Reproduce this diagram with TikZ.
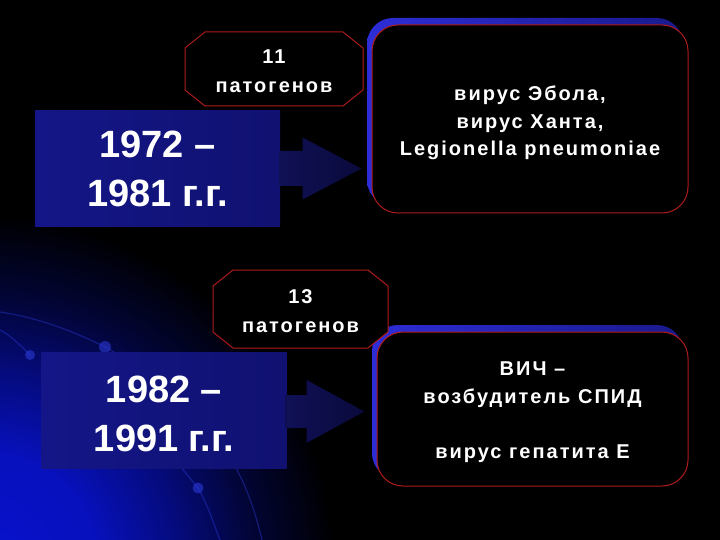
\documentclass[tikz,border=0pt]{standalone}
\usepackage{fontspec}
\setmainfont{Liberation Sans}
\newfontfamily\widefont[LetterSpace=10.0]{Liberation Sans}
\usetikzlibrary{calc,shadows}
\definecolor{boxblue}{RGB}{20,22,136}
\definecolor{boxblueR}{RGB}{16,17,112}
\definecolor{arrowblue}{RGB}{16,16,86}
\definecolor{arrowblueR}{RGB}{10,10,60}
\definecolor{redline}{RGB}{175,28,28}
\definecolor{shadowblue}{RGB}{45,45,215}
\definecolor{shadowblueR}{RGB}{25,25,140}
\definecolor{glowblue}{RGB}{8,18,205}
\definecolor{decoblue}{RGB}{45,60,225}
\pgfdeclareradialshading{glow}{\pgfpoint{0bp}{0bp}}{color(0bp)=(glowblue); color(4bp)=(glowblue!92!black); color(7bp)=(glowblue!60!black); color(9.5bp)=(glowblue!27!black); color(12.5bp)=(black); color(50bp)=(black)}
\tikzset{
  yearbox/.style={rectangle, left color=boxblue, right color=boxblueR, draw=none,
    minimum width=245pt, minimum height=116pt},
  yeartext/.style={text=white, align=center, font=\bfseries\fontsize{38}{49}\selectfont},
  octtext/.style={rectangle, draw=none, text=white, align=center,
    font=\widefont\bfseries\fontsize{20}{29}\selectfont},
  octline/.style={fill=black, draw=redline, line width=1pt, line join=miter},
  infobox/.style={rectangle, rounded corners=26pt, fill=black, draw=redline, line width=1pt,
    copy shadow={shadow xshift=-5pt, shadow yshift=7pt, left color=shadowblue, right color=shadowblueR, draw=none}},
  infotext/.style={text=white, align=center, font=\widefont\bfseries\fontsize{20}{27.5}\selectfont},
  arrowfill/.style={left color=arrowblue, right color=arrowblueR, draw=none},
  deco/.style={draw=decoblue, opacity=0.4, line width=1.2pt},
  decodot/.style={fill=decoblue, opacity=0.55}
}
\begin{document}
\begin{tikzpicture}[x=1pt,y=-1pt]
\useasboundingbox (0,0) rectangle (720,540);
\fill[black] (0,0) rectangle (720,540);
\begin{scope}
\clip (0,0) rectangle (720,540);
\shade[shading=glow] (-15,565) circle (700);
% faint decorative curves
\draw[deco] (0,312) .. controls (40,318) and (75,332) .. (105,347) .. controls (130,360) and (150,380) .. (170,420);
\draw[deco] (30,355) .. controls (20,345) and (10,335) .. (0,330);
\draw[deco] (180,466) -- (198,488) .. controls (208,505) and (214,525) .. (220,540);
\draw[deco] (236,468) .. controls (248,490) and (256,515) .. (262,540);
\fill[decodot] (30,355) circle (5);
\fill[decodot] (105,347) circle (6);
\fill[decodot] (198,488) circle (5.5);
\end{scope}

% info boxes
\node[infobox, minimum width=316pt, minimum height=188pt] (info1) at (530,119) {};
\node[infotext] (info1txt) at ($(info1.center)+(0,4)$) {вирус Эбола,\\вирус Ханта,\\Legionella pneumoniae};
\node[infobox, minimum width=311pt, minimum height=154pt] (info2) at (532.5,409) {};
\node[infotext] (info2txt) at ($(info2.center)+(0,3)$) {ВИЧ –\\возбудитель СПИД\\[27.5pt]вирус гепатита Е};

% year boxes
\node[yearbox] (year1) at (157.5,168.5) {};
\node[yeartext] (year1txt) at (year1.center) {1972 –\\1981 г.г.};
\node[yearbox] (year2) at (164,410.5) {};
\node[yeartext] (year2txt) at ($(year2.center)+(0,3.5)$) {1982 –\\1991 г.г.};

% arrows
\coordinate (t1) at ($(year1.east -| info1.west)+(-10,0)$);
\fill[arrowfill] ($(year1.east)+(-1,-17.5)$) -- ($(t1)+(-59,-17.5)$) -- ($(t1)+(-59,-31)$) -- (t1)
  -- ($(t1)+(-59,31)$) -- ($(t1)+(-59,17.5)$) -- ($(year1.east)+(-1,17.5)$) -- cycle;
\coordinate (t2) at ($(year2.east -| info2.west)+(-12,1)$);
\fill[arrowfill] ($(year2.east)+(-1,-15.5)$) -- ($(t2)+(-58,-16.5)$) -- ($(t2)+(-58,-31.5)$) -- (t2)
  -- ($(t2)+(-58,31.5)$) -- ($(t2)+(-58,16.5)$) -- ($(year2.east)+(-1,17.5)$) -- cycle;

% octagons
\coordinate (oc1) at (274,69);
\draw[octline] ($(oc1)+(-69,-37)$) -- ($(oc1)+(69,-37)$) -- ($(oc1)+(89,-21)$) -- ($(oc1)+(89,21)$)
  -- ($(oc1)+(69,37)$) -- ($(oc1)+(-69,37)$) -- ($(oc1)+(-89,21)$) -- ($(oc1)+(-89,-21)$) -- cycle;
\node[octtext] (oct1) at ($(oc1)+(0,2)$) {11\\патогенов};
\coordinate (oc2) at (300.5,309);
\draw[octline] ($(oc2)+(-67.5,-39)$) -- ($(oc2)+(67.5,-39)$) -- ($(oc2)+(87.5,-23)$) -- ($(oc2)+(87.5,23)$)
  -- ($(oc2)+(67.5,39)$) -- ($(oc2)+(-67.5,39)$) -- ($(oc2)+(-87.5,23)$) -- ($(oc2)+(-87.5,-23)$) -- cycle;
\node[octtext] (oct2) at ($(oc2)+(0,2)$) {13\\патогенов};
\end{tikzpicture}
\end{document}
